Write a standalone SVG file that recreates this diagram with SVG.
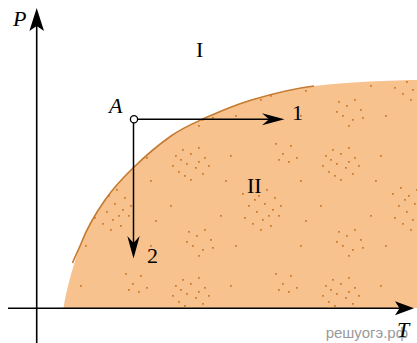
<svg xmlns="http://www.w3.org/2000/svg" width="417" height="343" viewBox="0 0 417 343">
<style>
.lbl{font-family:"Liberation Serif",serif;font-size:22px;fill:#000}
.it{font-style:italic}
.ax{stroke:#000;stroke-width:1.6;fill:none}
.ln{stroke:#000;stroke-width:1.5;fill:none}
.dot{fill:#cf7a2a}
</style>
<defs>
<pattern id="dots" patternUnits="userSpaceOnUse" width="150" height="130" x="10" y="5">
<path class="dot" d="M15,20h1.8v1.8h-1.8zM22,14h1.8v1.8h-1.8zM30,18h1.8v1.8h-1.8zM38,12h1.8v1.8h-1.8zM44,22h1.8v1.8h-1.8zM26,28h1.8v1.8h-1.8zM35,32h1.8v1.8h-1.8zM18,36h1.8v1.8h-1.8zM42,38h1.8v1.8h-1.8zM30,44h1.8v1.8h-1.8zM12,30h1.8v1.8h-1.8zM48,30h1.8v1.8h-1.8zM24,40h1.8v1.8h-1.8zM38,26h1.8v1.8h-1.8zM20,24h1.8v1.8h-1.8z
M82,58h1.8v1.8h-1.8zM90,52h1.8v1.8h-1.8zM98,60h1.8v1.8h-1.8zM106,54h1.8v1.8h-1.8zM114,62h1.8v1.8h-1.8zM88,70h1.8v1.8h-1.8zM96,76h1.8v1.8h-1.8zM104,68h1.8v1.8h-1.8zM112,74h1.8v1.8h-1.8zM120,70h1.8v1.8h-1.8zM84,82h1.8v1.8h-1.8zM92,88h1.8v1.8h-1.8zM102,84h1.8v1.8h-1.8zM110,90h1.8v1.8h-1.8zM118,80h1.8v1.8h-1.8zM100,94h1.8v1.8h-1.8zM94,64h1.8v1.8h-1.8zM108,80h1.8v1.8h-1.8z
M28,96h1.8v1.8h-1.8zM36,100h1.8v1.8h-1.8zM44,94h1.8v1.8h-1.8zM50,104h1.8v1.8h-1.8zM32,110h1.8v1.8h-1.8zM42,114h1.8v1.8h-1.8zM52,112h1.8v1.8h-1.8zM38,120h1.8v1.8h-1.8zM26,106h1.8v1.8h-1.8z
M115,8h1.8v1.8h-1.8zM122,18h1.8v1.8h-1.8zM130,10h1.8v1.8h-1.8zM136,22h1.8v1.8h-1.8zM128,26h1.8v1.8h-1.8zM118,24h1.8v1.8h-1.8z
M70,20h1.8v1.8h-1.8zM65,45h1.8v1.8h-1.8zM140,45h1.8v1.8h-1.8zM75,110h1.8v1.8h-1.8zM140,110h1.8v1.8h-1.8zM60,80h1.8v1.8h-1.8zM10,70h1.8v1.8h-1.8zM145,85h1.8v1.8h-1.8z"/>
</pattern>
</defs>
<g id="region-II">
<path id="region-fill" d="M63.5,308 C67,286 74.8,260 81.7,242 C88.6,224 96.45,212.3 105,200 C113.55,187.7 122,178.7 133,168 C144,157.3 159.3,144.2 171,136 C182.7,127.8 189.8,124.9 203,119 C216.2,113.1 231.5,106 250,100.5 C268.5,95 286.2,89.4 314,86 C341.8,82.6 383,80.5 417,80 L417,308 Z" fill="#f7c28e"/>
<path d="M63.5,308 C67,286 74.8,260 81.7,242 C88.6,224 96.45,212.3 105,200 C113.55,187.7 122,178.7 133,168 C144,157.3 159.3,144.2 171,136 C182.7,127.8 189.8,124.9 203,119 C216.2,113.1 231.5,106 250,100.5 C268.5,95 286.2,89.4 314,86 C341.8,82.6 383,80.5 417,80 L417,308 Z" fill="url(#dots)"/>
<path id="boundary" d="M72.5,263 C74.6,257.7 79.6,247.4 81.7,242 C88.6,224 96.45,212.3 105,200 C113.55,187.7 122,178.7 133,168 C144,157.3 159.3,144.2 171,136 C182.7,127.8 189.8,124.9 203,119 C216.2,113.1 231.5,106 250,100.5 C268.5,95 286.2,89.4 314,86" fill="none" stroke="#c47a30" stroke-width="1.6"/>
</g>
<text x="408" y="338" text-anchor="end" font-family="Liberation Sans, sans-serif" font-size="15" fill="#9a9a9a">решуогэ.рф</text>
<g id="axes">
<line class="ax" x1="36.7" y1="343" x2="36.7" y2="20"/>
<path d="M36.7,8 L44,31 L36.7,26 L29.4,31 Z" fill="#000"/>
<line class="ax" x1="8" y1="308.3" x2="404" y2="308.3"/>
<path d="M414,308.3 L395,301.3 L399.5,308.3 L395,315.3 Z" fill="#000"/>
<text class="lbl it" x="13" y="26">P</text>
<text class="lbl it" x="397" y="337">T</text>
</g>
<g id="connectors">
<line class="ln" x1="134" y1="119.3" x2="272" y2="119.3"/>
<path d="M284.5,119.3 L262,113.3 L269,119.3 L262,125.3 Z" fill="#000"/>
<line class="ln" x1="133.5" y1="119.3" x2="133.5" y2="248"/>
<path d="M133.5,258.5 L127.3,236 L133.5,243 L139.7,236 Z" fill="#000"/>
</g>
<g id="point-A">
<circle cx="134" cy="119.3" r="3.6" fill="#fff" stroke="#000" stroke-width="1.3"/>
<text class="lbl it" x="109" y="113">A</text>
</g>
<g id="label-1"><text class="lbl" x="292" y="120">1</text></g>
<g id="label-2"><text class="lbl" x="147" y="263">2</text></g>
<g id="label-I"><text class="lbl" x="196" y="57">I</text></g>
<g id="label-II"><text class="lbl" x="247" y="193">II</text></g>
</svg>
